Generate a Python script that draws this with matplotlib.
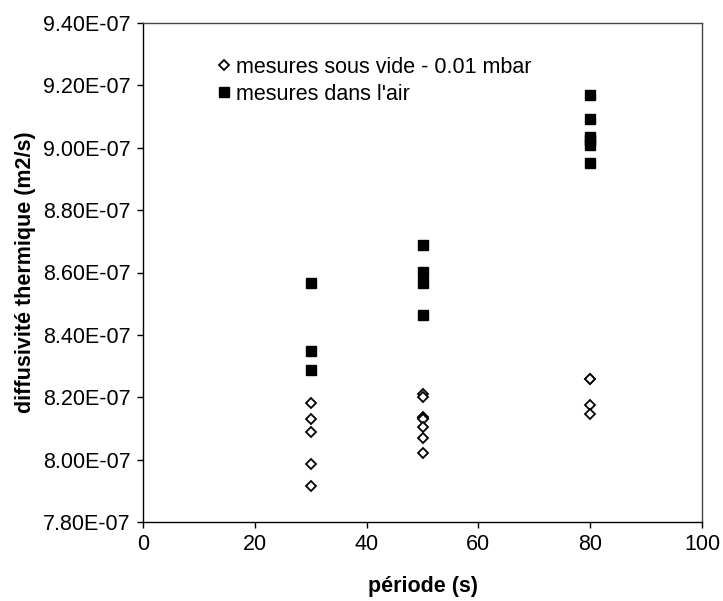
import matplotlib
matplotlib.use("Agg")
import matplotlib.pyplot as plt
from matplotlib.ticker import FuncFormatter, MultipleLocator

plt.rcParams['font.family'] = ['Liberation Sans', 'DejaVu Sans']

# Data (période in s, diffusivité in m2/s)
vide_x = [30, 30, 30, 30, 30,
          50, 50, 50, 50, 50, 50, 50, 50,
          80, 80, 80, 80]
vide_y = [8.182e-07, 8.130e-07, 8.089e-07, 7.986e-07, 7.916e-07,
          8.211e-07, 8.201e-07, 8.138e-07, 8.133e-07, 8.129e-07, 8.104e-07, 8.069e-07, 8.022e-07,
          8.260e-07, 8.258e-07, 8.175e-07, 8.145e-07]

air_x = [30, 30, 30,
         50, 50, 50, 50,
         80, 80, 80, 80, 80, 80]
air_y = [8.566e-07, 8.348e-07, 8.288e-07,
         8.688e-07, 8.601e-07, 8.567e-07, 8.464e-07,
         9.170e-07, 9.092e-07, 9.035e-07, 9.025e-07, 9.010e-07, 8.951e-07]

label_vide = "mesures sous vide - 0.01 mbar"
label_air = "mesures dans l'air"
xlabel = "période (s)"
ylabel = "diffusivité thermique (m2/s)"

fig = plt.figure(figsize=(7.23, 6.01), dpi=100)
ax = fig.add_axes([143/723, 1-522/601, (702-143)/723, (522-23)/601])

ax.plot(vide_x, vide_y, linestyle='none', marker='D', markersize=5.4,
        markerfacecolor='white', markeredgecolor='black', markeredgewidth=1.3,
        label=label_vide)
ax.plot(air_x, air_y, linestyle='none', marker='s', markersize=7.3,
        markerfacecolor='black', markeredgecolor='black', label=label_air)

ax.set_xlim(0, 100)
ax.set_ylim(7.8e-07, 9.4e-07)
ax.xaxis.set_major_locator(MultipleLocator(20))
ax.yaxis.set_major_locator(MultipleLocator(0.2e-07))
ax.yaxis.set_major_formatter(FuncFormatter(lambda v, p: f"{v:.2E}"))
ax.tick_params(direction='out', length=4, width=1, labelsize=15.5, pad=5)

for s in ax.spines.values():
    s.set_linewidth(1.0)
    s.set_color('black')
ax.spines['top'].set_color('#444444')
ax.spines['right'].set_color('#444444')

ax.set_xlabel(xlabel, fontsize=15.5, fontweight='bold', labelpad=15)
ax.set_ylabel(ylabel, fontsize=15.5, fontweight='bold', labelpad=5)

ax.legend(loc='upper left', bbox_to_anchor=(0.12, 0.95), frameon=False,
          fontsize=15.5, handlelength=0.5, handletextpad=0.3, labelspacing=0.3,
          borderaxespad=0)

fig.savefig("out.png", dpi=100)
